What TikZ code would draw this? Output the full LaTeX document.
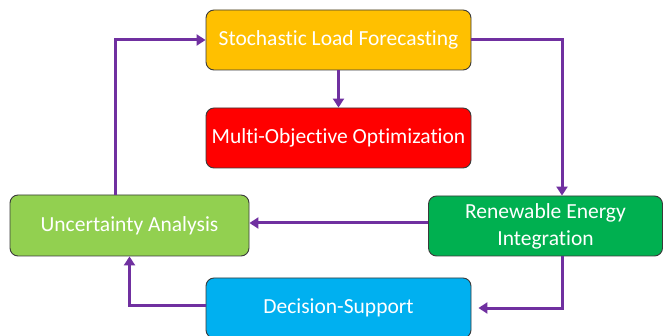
\documentclass[tikz,border=0pt]{standalone}
\usepackage{fontspec}
\setmainfont[Ligatures=NoCommon]{Carlito}
\usetikzlibrary{arrows.meta,calc}
\definecolor{boxyellow}{HTML}{FFC000}
\definecolor{boxred}{HTML}{FF0000}
\definecolor{boxlime}{HTML}{92D050}
\definecolor{boxgreen}{HTML}{00B050}
\definecolor{boxblue}{HTML}{00B0F0}
\definecolor{flow}{HTML}{7030A0}
\definecolor{edge}{HTML}{3A3A3A}
\tikzset{
  stage/.style={draw=edge, line width=0.9pt, rounded corners=8pt,
    text=white, align=center, font=\fontsize{21.5}{27}\selectfont,
    inner sep=2pt, minimum height=60pt},
  flowarrow/.style={draw=flow, line width=3pt,
    -{Triangle[length=9pt,width=11pt]}}
}
\begin{document}
\begin{tikzpicture}[x=1pt,y=-1pt]
\useasboundingbox (0,0) rectangle (663,336);
\clip (0,0) rectangle (663,336);
\fill[white] (0,0) rectangle (663,336);

\node[stage, fill=boxyellow, minimum width=265pt] (fore) at (338.5,40) {Stochastic Load Forecasting};
\node[stage, fill=boxred, minimum width=265pt] (opt) at (338.5,138) {Multi-Objective Optimization};
\node[stage, fill=boxlime, minimum width=239pt, minimum height=61pt] (unc) at (129.5,225.5) {Uncertainty Analysis};
\node[stage, fill=boxgreen, minimum width=234pt] (ren) at (545.5,226) {Renewable Energy\\Integration};
\node[stage, fill=boxblue, minimum width=265pt] (dec) at (338.5,308) {Decision-Support};

\draw[flowarrow] ([xshift=-14.5pt]unc.north) |- (fore.west);
\draw[flowarrow] (fore.east) -| ([xshift=16.5pt]ren.north);
\draw[flowarrow] (fore.south) -- (opt.north);
\draw[flowarrow] ([yshift=3pt]ren.west) -- ([yshift=3pt]ren.west -| unc.east);
\draw[flowarrow] ([xshift=16.5pt]ren.south) |- ([xshift=7pt]dec.east);
\draw[flowarrow] ([yshift=3pt]dec.west) -| (unc.south);
\end{tikzpicture}
\end{document}
